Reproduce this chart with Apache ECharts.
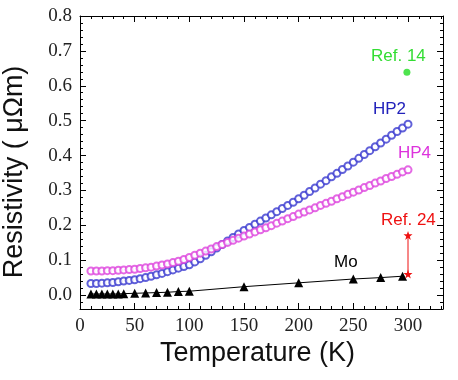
<!DOCTYPE html>
<html>
<head>
<meta charset="utf-8">
<script src="https://cdn.jsdelivr.net/npm/echarts@6/dist/echarts.min.js"></script>
<style>html,body{margin:0;padding:0;background:#fff}#c{width:458px;height:380px}</style>
</head>
<body>
<div id="c"></div>
<script>
var temps = [10,15,20,25,30,35,40,45,50,55,60,65,70,75,80,85,90,95,100,105,110,115,120,125,130,135,140,145,150,155,160,165,170,175,180,185,190,195,200,205,210,215,220,225,230,235,240,245,250,255,260,265,270,275,280,285,290,295,300];
var hp2 = [0.033,0.033,0.034,0.035,0.036,0.038,0.040,0.042,0.044,0.047,0.050,0.054,0.058,0.062,0.067,0.072,0.077,0.082,0.087,0.095,0.104,0.114,0.124,0.135,0.145,0.155,0.165,0.175,0.185,0.194,0.203,0.212,0.221,0.230,0.239,0.248,0.257,0.266,0.276,0.286,0.297,0.307,0.318,0.328,0.339,0.349,0.360,0.370,0.381,0.392,0.403,0.414,0.425,0.436,0.447,0.458,0.469,0.479,0.490];
var hp4 = [0.069,0.069,0.069,0.070,0.070,0.071,0.072,0.073,0.074,0.076,0.078,0.080,0.083,0.086,0.089,0.093,0.097,0.102,0.108,0.114,0.120,0.126,0.132,0.139,0.145,0.151,0.157,0.163,0.169,0.175,0.181,0.187,0.193,0.199,0.206,0.212,0.219,0.225,0.232,0.238,0.244,0.250,0.257,0.263,0.269,0.276,0.282,0.289,0.295,0.301,0.308,0.314,0.321,0.327,0.334,0.340,0.346,0.353,0.359];
var moTemps = [10,15,20,25,30,35,40,50,60,70,80,90,100,150,200,250,275,295];
var moVals = [0.003,0.003,0.003,0.003,0.003,0.003,0.004,0.005,0.006,0.007,0.008,0.010,0.011,0.024,0.035,0.046,0.050,0.054];
var ref24Temps = [300,300];
var ref24Vals = [0.060,0.171];
var ref14Temps = [299];
var ref14Vals = [0.639];
var yMajor = [0,0.1,0.2,0.3,0.4,0.5,0.6,0.7,0.8];
var yMinor = [-0.04,-0.02,0.02,0.04,0.06,0.08,0.12,0.14,0.16,0.18,0.22,0.24,0.26,0.28,0.32,0.34,0.36,0.38,0.42,0.44,0.46,0.48,0.52,0.54,0.56,0.58,0.62,0.64,0.66,0.68,0.72,0.74,0.76,0.78];

function zip(a,b){var r=[];for(var i=0;i<a.length;i++)r.push([a[i],b[i]]);return r;}

var chart = echarts.init(document.getElementById('c'), null, {renderer:'canvas'});
var lineStyle = {color:'#000', width:1};
var serif = '"Liberation Serif", "Times New Roman", serif';
var star = 'path://M0,-10 L2.35,-3.24 L9.51,-3.09 L3.8,1.24 L5.88,8.09 L0,4 L-5.88,8.09 L-3.8,1.24 L-9.51,-3.09 L-2.35,-3.24 Z';

function xAx(pos, labels){
  return {type:'value', position:pos, min:0, max:332, interval:50,
    axisLine:{show:true, onZero:false, lineStyle:lineStyle},
    axisTick:{show:true, inside:true, length:6, lineStyle:lineStyle},
    minorTick:{show:true, splitNumber:5, length:3, lineStyle:lineStyle},
    axisLabel:{show:labels, showMaxLabel:false, fontFamily:serif, fontSize:19, color:'#222', margin:8},
    splitLine:{show:false}, minorSplitLine:{show:false}};
}
function yAx(pos, labels, minor){
  return {type:'value', position:pos, min:-0.04, max:0.8,
    axisLine:{show:!minor, onZero:false, lineStyle:lineStyle},
    axisTick:{show:true, inside:true, length:minor?3:6, customValues:minor?yMinor:yMajor, lineStyle:lineStyle},
    axisLabel:{show:labels, customValues:yMajor, fontFamily:serif, fontSize:19, color:'#222', margin:8,
      formatter:function(v){return v.toFixed(1);}},
    splitLine:{show:false}};
}

chart.setOption({
  animation:false,
  backgroundColor:'#fff',
  grid:{left:80, right:15, top:16, bottom:71, containLabel:false},
  xAxis:[xAx('bottom',true), xAx('top',false)],
  yAxis:[yAx('left',true,false), yAx('left',false,true), yAx('right',false,false), yAx('right',false,true)],
  series:[
    {type:'line', name:'Mo', data:zip(moTemps,moVals), symbol:'triangle', symbolSize:9,
      itemStyle:{color:'#000'}, lineStyle:{color:'#000', width:1}, z:3},
    {type:'scatter', name:'HP2', data:zip(temps,hp2), symbol:'emptyCircle', symbolSize:7,
      itemStyle:{color:'#3a3ad0', borderColor:'#3a3ad0', borderWidth:0.7}},
    {type:'scatter', name:'HP4', data:zip(temps,hp4), symbol:'emptyCircle', symbolSize:7,
      itemStyle:{color:'#dd44dd', borderColor:'#dd44dd', borderWidth:0.7}},
    {type:'line', name:'Ref. 24', data:zip(ref24Temps,ref24Vals), symbol:star, symbolSize:9,
      itemStyle:{color:'#ee1111'}, lineStyle:{color:'#ee1111', width:1}, z:4},
    {type:'scatter', name:'Ref. 14', data:zip(ref14Temps,ref14Vals), symbol:'circle', symbolSize:7,
      itemStyle:{color:'#22dd22'}}
  ],
  graphic:[
    {type:'text', left:371, top:48, style:{text:'Ref. 14', font:'17px "Liberation Sans"', fill:'#33dd33'}},
    {type:'text', left:373, top:101, style:{text:'HP2', font:'17px "Liberation Sans"', fill:'#2222bb'}},
    {type:'text', left:398, top:145, style:{text:'HP4', font:'17px "Liberation Sans"', fill:'#dd33dd'}},
    {type:'text', left:381, top:212, style:{text:'Ref. 24', font:'17px "Liberation Sans"', fill:'#ee1111'}},
    {type:'text', left:334, top:254, style:{text:'Mo', font:'17px "Liberation Sans"', fill:'#000'}},
    {type:'text', left:160, top:340, style:{text:'Temperature (K)', font:'27px "Liberation Sans"', fill:'#111'}},
    {type:'text', x:15, y:172, rotation:Math.PI/2,
      style:{text:'Resistivity ( μΩm)', font:'27px "Liberation Sans"', fill:'#111', align:'center', verticalAlign:'middle'}}
  ]
});
</script>
</body>
</html>
